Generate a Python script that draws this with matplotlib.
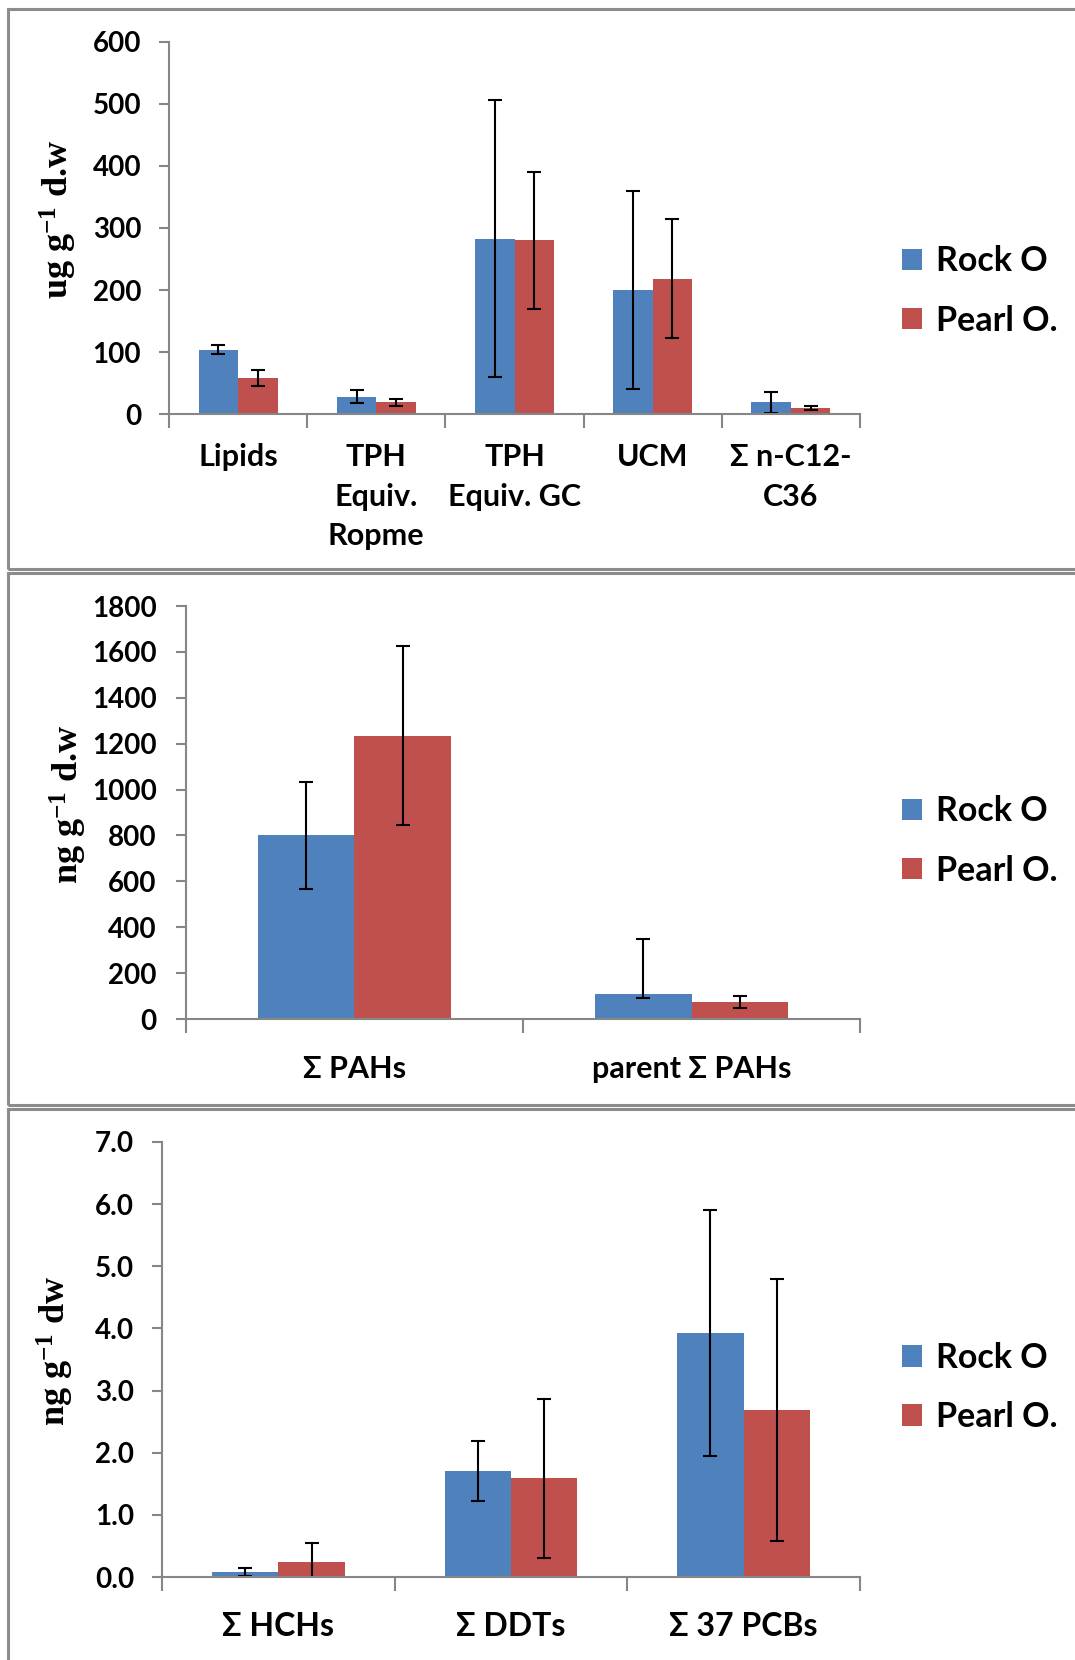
import matplotlib
matplotlib.use("Agg")
import matplotlib.pyplot as plt
from matplotlib.patches import Rectangle
import numpy as np

plt.rcParams['font.family'] = ['Lato', 'DejaVu Sans']
plt.rcParams['mathtext.default'] = 'regular'

series = ['Rock O', 'Pearl O.']
colors = ['#4F81BD', '#C0504D']

# panel 1: ug g-1 d.w
cats1 = ['Lipids', 'TPH\nEquiv.\nRopme', 'TPH\nEquiv. GC', 'UCM', 'Σ n-C12-\nC36']
rock1 = [104, 28, 283, 200, 19]
rock1_err = [8, 10, 223, 160, 17]
pearl1 = [58, 19, 280, 218, 10]
pearl1_err = [13, 6, 110, 96, 3]

# panel 2: ng g-1 d.w
cats2 = ['Σ PAHs', 'parent Σ PAHs']
rock2 = [800, 110]
rock2_err_lo = [235, 20]
rock2_err_hi = [235, 238]
pearl2 = [1235, 75]
pearl2_err = [390, 25]

# panel 3: ng g-1 dw
cats3 = ['Σ HCHs', 'Σ DDTs', 'Σ 37 PCBs']
rock3 = [0.08, 1.71, 3.93]
rock3_err = [0.06, 0.48, 1.98]
pearl3 = [0.24, 1.59, 2.69]
pearl3_err = [0.30, 1.28, 2.11]

fig = plt.figure(figsize=(10.75, 16.6), dpi=100)
W, H = 1075, 1660

def fy(px):
    return 1 - px / H

# panel frames
for top, bot in [(9, 569), (573, 1105), (1109, 1700)]:
    fig.patches.append(Rectangle((8 / W, fy(bot)), 1.2, (bot - top) / H,
                                 transform=fig.transFigure, fill=False,
                                 edgecolor='#8c8c8c', linewidth=2.2))

def panel(rect, cats, vals, errs, ymax, step, fmt, ylabel, ylabel_x,
          cat_size, cat_pad, leg_y, ypad):
    ax = fig.add_axes(rect)
    n = len(cats)
    w = 1 / 3.5
    x = np.arange(n) + 0.5
    ek = dict(ecolor='black', elinewidth=1.5, capthick=1.5, capsize=5)
    for i in range(2):
        ax.bar(x + (i - 0.5) * w, vals[i], w, color=colors[i], label=series[i],
               yerr=errs[i], error_kw=ek, zorder=2)
    ax.set_xlim(0, n)
    ax.set_ylim(0, ymax)
    ticks = np.arange(0, ymax + step / 2, step)
    ax.set_yticks(ticks)
    ax.set_yticklabels([fmt.format(v) for v in ticks])
    ax.set_xticks(np.arange(n + 1))
    ax.set_xticklabels([])
    ax.set_xticks(x, minor=True)
    ax.set_xticklabels(cats, minor=True, fontsize=cat_size, fontweight='bold',
                       linespacing=1.5, va='top')
    ax.tick_params(axis='x', which='minor', length=0, pad=cat_pad)
    ax.tick_params(axis='x', which='major', length=10, width=1.5, color='#868686',
                   direction='out')
    ax.tick_params(axis='y', length=7, width=1.5, color='#868686', pad=ypad,
                   labelsize=20)
    for lab in ax.get_yticklabels():
        lab.set_fontweight('bold')
    for s in ['top', 'right']:
        ax.spines[s].set_visible(False)
    for s in ['left', 'bottom']:
        ax.spines[s].set_color('#868686')
        ax.spines[s].set_linewidth(1.5)
    fig.text(ylabel_x / W, rect[1] + rect[3] / 2 + 0.005, ylabel, rotation=90,
             ha='center', va='center', fontsize=26, fontweight='bold',
             family='Liberation Serif')
    fig.legend(*ax.get_legend_handles_labels(), loc='center left',
               bbox_to_anchor=(902 / W, leg_y), bbox_transform=fig.transFigure,
               frameon=False, handlelength=0.6, handleheight=0.6,
               handletextpad=0.4, labelspacing=0.8, borderpad=0, borderaxespad=0,
               prop={'weight': 'bold', 'size': 24.5})
    return ax

panel([169 / W, fy(414), (860 - 169) / W, (414 - 42) / H], cats1,
      [rock1, pearl1], [rock1_err, pearl1_err], 600, 100, '{:.0f}',
      r'ug g$^{-1}$ d.w', 58, 22, 21, fy(291), 13)

panel([186 / W, fy(1019), (860 - 186) / W, (1019 - 606) / H], cats2,
      [rock2, pearl2], [[rock2_err_lo, rock2_err_hi], pearl2_err], 1800, 200,
      '{:.0f}', r'ng g$^{-1}$ d.w', 68, 22, 26, fy(841), 14)

panel([162 / W, fy(1577), (860 - 162) / W, (1577 - 1142) / H], cats3,
      [rock3, pearl3], [rock3_err, pearl3_err], 7.0, 1.0, '{:.1f}',
      r'ng g$^{-1}$ dw', 55, 23, 25, fy(1387.5), 13)

fig.savefig('out.png', dpi=100)
